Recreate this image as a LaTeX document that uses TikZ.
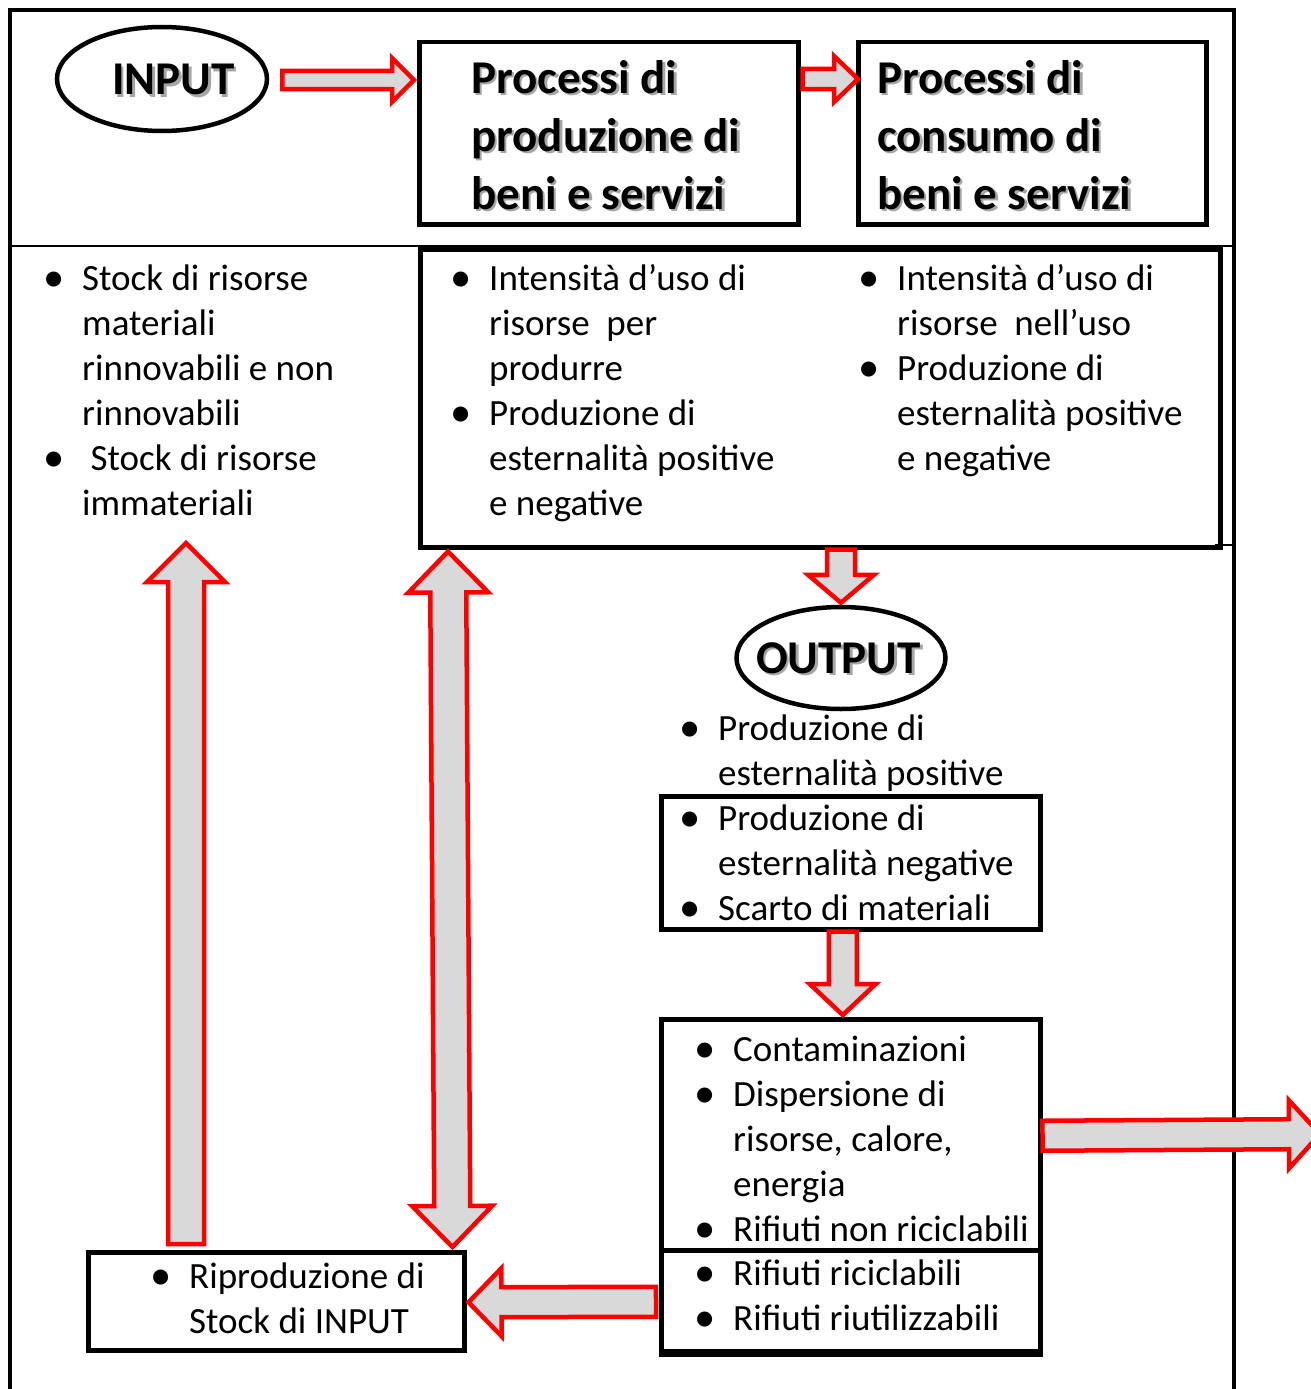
\documentclass[tikz,border=0pt]{standalone}
\usepackage{fontspec}
\setmainfont{Carlito}
\usetikzlibrary{calc,shapes.geometric}

\newcommand\shtext[1]{\makebox[0pt][l]{\kern2.5pt\raisebox{-2.5pt}{\textcolor{black!35}{#1}}}#1}
\newcommand\itm[1]{\makebox[38pt][l]{\kern-1pt\raisebox{-1.5pt}{\scalebox{1.15}{•}}}#1}
\newcommand\cnt[1]{\hspace*{38pt}#1}

% block arrow: style, from, to, body half width, head half width, head length
\newcommand\blockarrow[6]{%
  \draw[#1] let \p1=(#2), \p2=(#3), \n1={atan2(\y2-\y1,\x2-\x1)}, \n2={veclen(\x2-\x1,\y2-\y1)} in
    [shift={(\p1)}, rotate=\n1]
    (0,#4) -- (\n2-#6,#4) -- (\n2-#6,#5) -- (\n2,0) -- (\n2-#6,-#5) -- (\n2-#6,-#4) -- (0,-#4) -- cycle;}
% double block arrow
\newcommand\dblarrow[6]{%
  \draw[#1] let \p1=(#2), \p2=(#3), \n1={atan2(\y2-\y1,\x2-\x1)}, \n2={veclen(\x2-\x1,\y2-\y1)} in
    [shift={(\p1)}, rotate=\n1]
    (0,0) -- (#6,#5) -- (#6,#4) -- (\n2-#6,#4) -- (\n2-#6,#5) -- (\n2,0) -- (\n2-#6,-#5) -- (\n2-#6,-#4) -- (#6,-#4) -- (#6,-#5) -- cycle;}

\tikzset{
  framebox/.style={draw, line width=4.5pt, inner sep=0pt, anchor=north west, fill=none},
  oval/.style={draw, ellipse, line width=4.5pt, inner sep=0pt},
  title/.style={anchor=base west, inner sep=0pt, align=left, font=\fontsize{47pt}{58pt}\selectfont\bfseries},
  body/.style={anchor=base west, inner sep=0pt, align=left, font=\fontsize{37pt}{45pt}\selectfont},
  barrow/.style={draw=red, fill=black!15, line width=4.5pt, line join=miter, miter limit=10},
  rule/.style={line width=2pt},
  outer/.style={line width=4pt},
}

\begin{document}
\begin{tikzpicture}[x=1pt, y=-1pt]
\useasboundingbox (0,0) rectangle (1311,1389);
\clip (0,0) rectangle (1311,1389);

% frame and table rules
\draw[outer] (10,1400) -- (10,10) -- (1234,10) -- (1234,1400);
\draw[rule] (10,246) -- (1234,246);
\draw[rule] (1215,545) -- (1234,545);

% shapes
\node[oval, minimum width=210pt, minimum height=104pt] (inE) at (162,79) {};
\node[oval, minimum width=209pt, minimum height=102pt] (outE) at (841,658) {};
\node[framebox, minimum width=379pt, minimum height=182pt] (b1) at (417,40) {};
\node[framebox, minimum width=348pt, minimum height=182pt] (b2) at (856,40) {};
\node[framebox, minimum width=800pt, minimum height=298pt] (mid) at (418,247) {};
\node[framebox, minimum width=379pt, minimum height=133pt] (b3) at (659,794) {};
\node[framebox, minimum width=379pt, minimum height=231pt] (b4) at (659,1017) {};
\node[framebox, minimum width=379pt, minimum height=101pt] (b5) at (659,1248) {};
\draw[line width=6pt] (b5.south west) -- (b5.south east);
\node[framebox, minimum width=376pt, minimum height=98pt] (rip) at (86,1250) {};

% titles (anchor = baseline of the last line)
\node[title] (tin) at (112,95) {\shtext{INPUT}};
\node[title] (tout) at (756,673) {\shtext{OUTPUT}};
\node[title] (t1) at (471,209) {\shtext{Processi di}\\\shtext{produzione di}\\\shtext{beni e servizi}};
\node[title] (t2) at (877,209) {\shtext{Processi di}\\\shtext{consumo di}\\\shtext{beni e servizi}};

% body texts (anchor = baseline of the last line)
\node[body] (lefttxt) at (44,515) {\itm{Stock di risorse}\\\cnt{materiali}\\\cnt{rinnovabili e non}\\\cnt{rinnovabili}\\\itm{\ Stock di risorse}\\\cnt{immateriali}};
\node[body] (midL) at (451,515) {\itm{Intensità d’uso di}\\\cnt{risorse\ \ per}\\\cnt{produrre}\\\itm{Produzione di}\\\cnt{esternalità positive}\\\cnt{e negative}};
\node[body] (midR) at (859,470) {\itm{Intensità d’uso di}\\\cnt{risorse\ \ nell’uso}\\\itm{Produzione di}\\\cnt{esternalità positive}\\\cnt{e negative}};
\node[body] (outtxt) at (680,785) {\itm{Produzione di}\\\cnt{esternalità positive}};
\node[body] (b3txt) at (680,920) {\itm{Produzione di}\\\cnt{esternalità negative}\\\itm{Scarto di materiali}};
\node[body] (b4txt) at (695,1241) {\itm{Contaminazioni}\\\itm{Dispersione di}\\\cnt{risorse, calore,}\\\cnt{energia}\\\itm{Rifiuti non riciclabili}};
\node[body] (b5txt) at (695,1330) {\itm{Rifiuti riciclabili}\\\itm{Rifiuti riutilizzabili}};
\node[body] (riptxt) at (151,1333) {\itm{Riproduzione di}\\\cnt{Stock di INPUT}};

% free ends
\coordinate (stockTip) at (186,543);
\coordinate (away) at (1320,1134);

% block arrows
\blockarrow{barrow}{$(inE.east)+(13,1)$}{$(inE.east -| b1.west)+(-3,1)$}{9}{22}{22}
\blockarrow{barrow}{$(b1.north east)+(2,39)$}{$(b2.north west)+(2,39)$}{10}{23}{24}
\blockarrow{barrow}{outE.north |- mid.south}{$(outE.north)+(0,-2)$}{14}{33}{28}
\blockarrow{barrow}{$(b3.south)+(-8,0)$}{$(b4.north)+(-8,-2)$}{14}{33}{31}
\blockarrow{barrow}{$(rip.north west)+(100,-6)$}{stockTip}{18}{39}{39}
\dblarrow{barrow}{$(mid.south west)+(30,2)$}{$(rip.north east)+(-14,-3)$}{18}{40}{41}
\blockarrow{barrow}{$(b5.west)+(-3,1)$}{$(rip.east)+(2,1)$}{15}{34}{33}
\blockarrow{barrow}{$(b4.east)+(0,1)$}{away}{15}{34}{31}
\end{tikzpicture}
\end{document}
